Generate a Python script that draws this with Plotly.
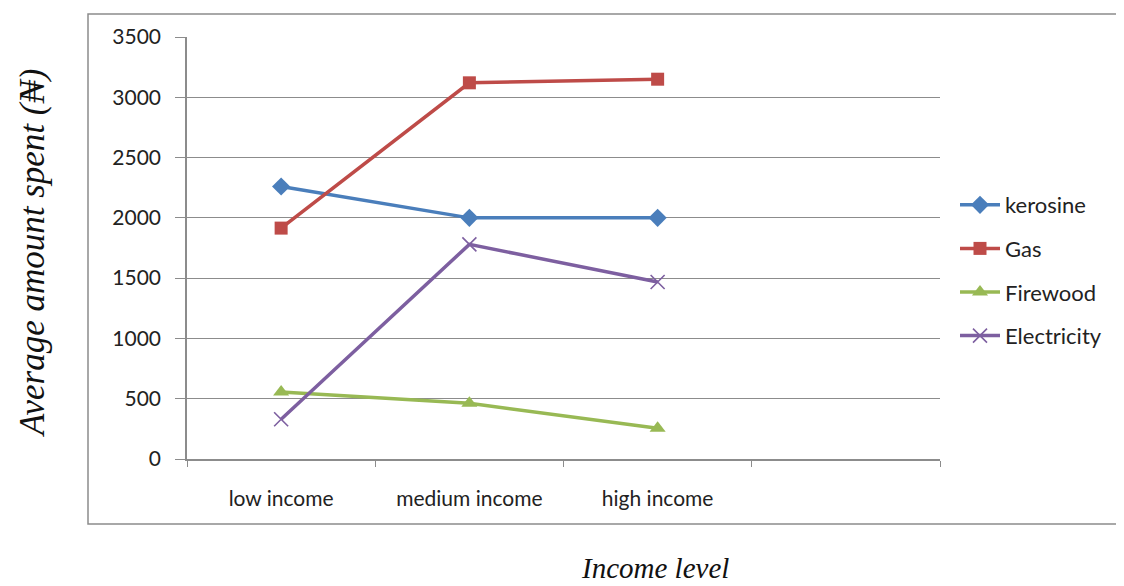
import plotly.graph_objects as go

categories = ["low income", "medium income", "high income", " "]
kerosine = [2260, 2000, 2000]
gas = [1915, 3120, 3150]
firewood = [555, 462, 255]
electricity = [330, 1780, 1468]
y_ticks = [0, 500, 1000, 1500, 2000, 2500, 3000, 3500]

OFF = 8  # page body margin
W, H = 1124 - OFF, 586 - OFF
L, R, T, B = 187 - OFF, 940 - OFF, 37 - OFF, 459 - OFF

fig = go.Figure()
series = [
    ("kerosine", kerosine, "#4a7ebb", dict(symbol="diamond", size=14)),
    ("Gas", gas, "#be4b48", dict(symbol="square", size=13)),
    ("Firewood", firewood, "#98b954", dict(symbol="triangle-up", size=14)),
    ("Electricity", electricity, "#7d5fa0", dict(symbol="x-thin", size=14, line=dict(width=1.6, color="#7d5fa0"))),
]
for name, vals, col, mk in series:
    fig.add_trace(go.Scatter(
        x=categories[:3], y=vals, name=name, mode="lines+markers",
        line=dict(color=col, width=3.5), marker=dict(color=col, **mk),
        legendgroup=name,
    ))

def px_x(p):
    return (p - OFF - L) / (R - L)

def px_y(p):
    return (B - (p - OFF)) / (B - T)

fig.add_shape(type="rect", xref="paper", yref="paper",
              x0=px_x(88), x1=px_x(1121), y0=px_y(524), y1=px_y(14),
              line=dict(color="#8c8c8c", width=1.5), fillcolor="rgba(0,0,0,0)", layer="below")

fig.update_layout(
    width=W, height=H,
    margin=dict(l=L, r=W - R, t=T, b=H - B),
    paper_bgcolor="white", plot_bgcolor="white",
    font=dict(family="Lato, Open Sans, sans-serif", size=21, color="#222"),
    legend=dict(x=px_x(955), y=px_y(184), xanchor="left", yanchor="top",
                font=dict(size=22, family="Lato, Open Sans, sans-serif"),
                tracegroupgap=12, itemwidth=40, bgcolor="rgba(0,0,0,0)"),
    showlegend=True,
)
fig.update_xaxes(
    type="category", categoryorder="array", categoryarray=categories,
    range=[-0.5, 3.5], tickson="boundaries", ticks="outside", ticklen=6,
    tickcolor="#8c8c8c", showline=True, linecolor="#8c8c8c", linewidth=1.5,
    showgrid=False, ticklabelstandoff=20, tickfont=dict(size=21),
)
fig.update_yaxes(
    range=[0, 3500], tickvals=y_ticks, ticks="outside", ticklen=10,
    tickcolor="#8c8c8c", showline=True, linecolor="#8c8c8c", linewidth=1.5,
    showgrid=True, gridcolor="#8c8c8c", gridwidth=1.2, zeroline=False,
    ticklabelstandoff=10, tickfont=dict(size=21),
)
fig.add_annotation(text="<i>Average amount spent (₦)</i>", xref="paper", yref="paper",
                   x=px_x(33), y=px_y(253), textangle=-90, showarrow=False,
                   font=dict(family="Liberation Serif, DejaVu Serif, serif", size=35, color="#111"),
                   xanchor="center", yanchor="middle")
fig.add_annotation(text="<i>Income level</i>", xref="paper", yref="paper",
                   x=px_x(655), y=px_y(585), showarrow=False,
                   font=dict(family="Liberation Serif, DejaVu Serif, serif", size=29, color="#111"),
                   xanchor="center", yanchor="bottom", borderpad=0)

fig.write_html("out.html")
